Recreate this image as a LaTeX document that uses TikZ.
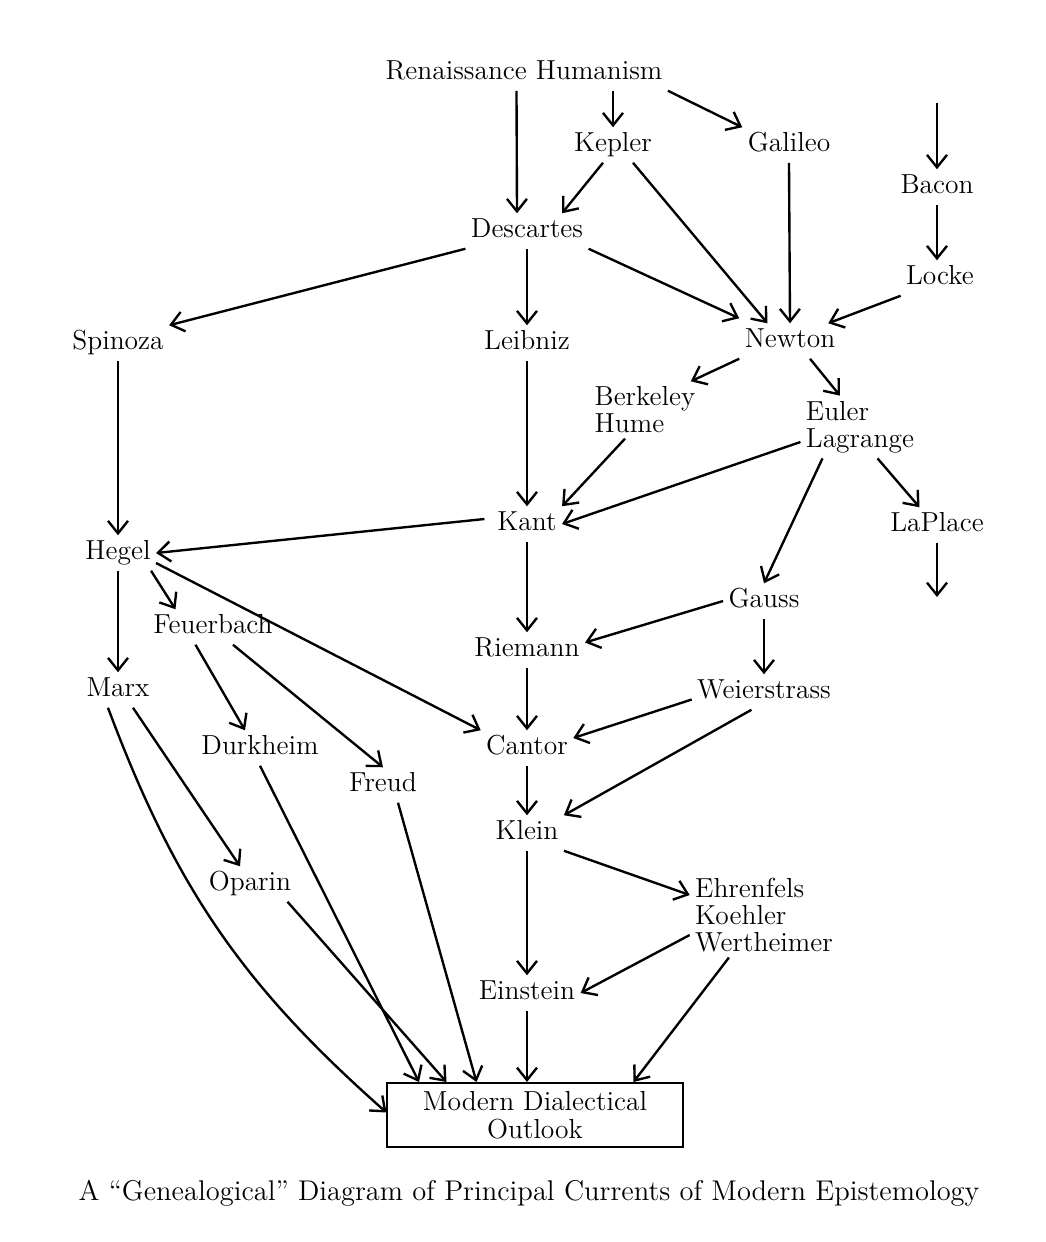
\documentclass[tikz,border=0pt]{standalone}
\usepackage{tikz}
\usetikzlibrary{arrows.meta}

\begin{document}
\begin{tikzpicture}[
  x=0.4pt,
  y=-0.4pt,
]

  \tikzstyle{thinker}=[inner sep=2pt,font=\fontsize{11}{11}\selectfont,text height=7.6pt,text depth=2.2pt]
  \tikzstyle{group}=[inner sep=2pt,font=\fontsize{11}{10.8}\selectfont,align=left]
  \tikzstyle{outlook}=[draw,thick,inner sep=2pt,minimum width=118pt,minimum height=25.6pt,font=\fontsize{11}{11.2}\selectfont,align=center]
  \tikzstyle{legend}=[inner sep=2pt,font=\fontsize{11.4}{12}\selectfont]
  \tikzstyle{pointer}=[draw,line width=0.95pt,-{Straight Barb[length=5pt,width=8pt,line width=0.95pt]}]

  \useasboundingbox (0,0) rectangle (1046,1242);

  % nodes
  \node[thinker] (rh) at (524,73) {Renaissance Humanism};
  \node[thinker] (kepler) at (613,145) {Kepler};
  \node[thinker] (galileo) at (789,145) {Galileo};
  \node[thinker] (bacon) at (937,187) {Bacon};
  \node[thinker] (locke) at (940,278) {Locke};
  \node[thinker] (desc) at (527,231) {Descartes};
  \node[thinker] (spinoza) at (118,343) {Spinoza};
  \node[thinker] (leibniz) at (527,343) {Leibniz};
  \node[thinker] (newton) at (790,341) {Newton};
  \node[group] (bh) at (645,410) {Berkeley\\Hume};
  \node[group] (el) at (860,427) {Euler\\Lagrange};
  \node[thinker] (kant) at (527,524) {Kant};
  \node[thinker] (laplace) at (937,525) {LaPlace};
  \node[thinker] (hegel) at (118,553) {Hegel};
  \node[thinker] (feuer) at (213,627) {Feuerbach};
  \node[thinker] (gauss) at (764,601) {Gauss};
  \node[thinker] (riemann) at (527,650) {Riemann};
  \node[thinker] (marx) at (118,690) {Marx};
  \node[thinker] (weier) at (764,692) {Weierstrass};
  \node[thinker] (durk) at (260,748) {Durkheim};
  \node[thinker] (cantor) at (527,748) {Cantor};
  \node[thinker] (freud) at (383,785) {Freud};
  \node[thinker] (klein) at (527,833) {Klein};
  \node[thinker] (oparin) at (250,884) {Oparin};
  \node[group] (gestalt) at (764,915) {Ehrenfels\\Koehler\\Wertheimer};
  \node[thinker] (einstein) at (527,993) {Einstein};
  \node[outlook] (mdo) at (535,1115) {Modern Dialectical\\Outlook};

  \node[legend] (caption) at (529,1193) {A ``Genealogical'' Diagram of Principal Currents of Modern Epistemology};

  \coordinate (bacontop) at (937,103);
  \coordinate (laplaceout) at (937,597);

  % pointers
  \draw[pointer] ([xshift=-3pt]rh.south) -- ([xshift=-4pt]desc.north);
  \draw[pointer] (kepler.north |- rh.south) -- (kepler.north);
  \draw[pointer] (rh.south east) -- (galileo.north west);
  \draw[pointer] (bacontop) -- (bacon.north);
  \draw[pointer] (bacon.south) -- (locke.north -| bacon.south);

  \draw[pointer] ([xshift=-4pt]kepler.south) -- ([xshift=14pt]desc.north);
  \draw[pointer] ([xshift=8pt]kepler.south) -- ([xshift=-9pt]newton.north);
  \draw[pointer] (galileo.south) -- (newton.north);
  \draw[pointer] (locke.south west) -- ([xshift=-5pt]newton.north east);

  \draw[pointer] (desc.south west) -- (spinoza.north east);
  \draw[pointer] (desc.south) -- (leibniz.north);
  \draw[pointer] (desc.south east) -- ([yshift=2pt]newton.north west);

  \draw[pointer] (newton.south west) -- ([xshift=-4pt]bh.north east);
  \draw[pointer] ([xshift=8pt]newton.south) -- ([xshift=-8pt]el.north);

  \draw[pointer] (spinoza.south) -- (hegel.north);
  \draw[pointer] (leibniz.south) -- (kant.north);
  \draw[pointer] ([xshift=-8pt]bh.south) -- (kant.north east);
  \draw[pointer] ([yshift=-6pt]el.west) -- (kant.east);
  \draw[pointer] ([xshift=-15pt]el.south) -- (gauss.north);
  \draw[pointer] ([xshift=7pt]el.south) -- ([xshift=-7pt]laplace.north);
  \draw[pointer] (laplace.south) -- (laplaceout);

  \draw[pointer] ([xshift=-3pt,yshift=2pt]kant.west) -- (hegel.east);
  \draw[pointer] (kant.south) -- (riemann.north);
  \draw[pointer] (gauss.west) -- ([yshift=3pt]riemann.east);
  \draw[pointer] (gauss.south) -- (weier.north);

  \draw[pointer] (hegel.south) -- (marx.north);
  \draw[pointer] ([xshift=-2pt]hegel.south east) -- ([xshift=-15pt]feuer.north);
  \draw[pointer] ([yshift=-4pt]hegel.east) -- (cantor.north west);
  \draw[pointer] ([xshift=-7pt]feuer.south) -- ([xshift=-6pt]durk.north);
  \draw[pointer] ([xshift=8pt]feuer.south) -- (freud.north);

  \draw[pointer] (riemann.south) -- (cantor.north);
  \draw[pointer] ([yshift=-3pt]weier.west) -- ([yshift=4pt]cantor.east);
  \draw[pointer] ([xshift=-5pt]weier.south) -- (klein.north east);
  \draw[pointer] (cantor.south) -- (klein.north);

  \draw[pointer] ([xshift=6pt]marx.south) -- ([xshift=-4pt]oparin.north);
  \draw[pointer] (klein.south east) -- ([yshift=8pt]gestalt.west);
  \draw[pointer] (klein.south) -- (einstein.north);
  \draw[pointer] ([yshift=-8pt]gestalt.west) -- (einstein.east);

  \draw[pointer] ([xshift=-4pt]marx.south) to[bend right=14] ([yshift=1pt]mdo.west);
  \draw[pointer] (durk.south) -- ([xshift=13pt]mdo.north west);
  \draw[pointer] ([xshift=15pt]oparin.south) -- ([xshift=24pt]mdo.north west);
  \draw[pointer] ([xshift=6pt]freud.south) -- ([xshift=36pt]mdo.north west);
  \draw[pointer] (einstein.south) -- (einstein.south |- mdo.north);
  \draw[pointer] ([xshift=-14pt]gestalt.south) -- ([xshift=-20pt]mdo.north east);

\end{tikzpicture}
\end{document}
